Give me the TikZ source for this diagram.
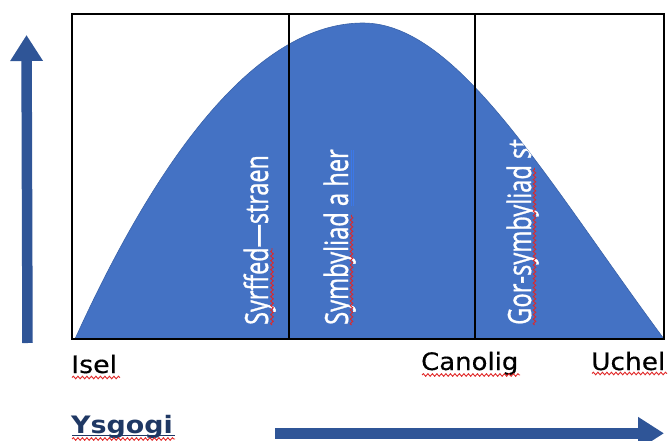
\documentclass[tikz,border=0pt]{standalone}
\usepackage{fontspec}
\usepackage{graphicx}
\usetikzlibrary{arrows.meta,decorations.pathmorphing}
\newfontfamily\labfont[FakeBold=0.4]{DejaVu Sans}
\newfontfamily\titlefont{DejaVu Sans}
\newfontfamily\bandfont[FakeBold=1.2]{Open Sans}
\definecolor{humpblue}{HTML}{4472C4}
\definecolor{humpedge}{HTML}{3A62A8}
\definecolor{arrowblue}{HTML}{2F5597}
\definecolor{navy}{HTML}{1F3864}
\definecolor{spellred}{HTML}{E02828}
\definecolor{grammarblue}{HTML}{3C78E8}
\tikzset{
  frameline/.style={draw=black,line width=1.6pt},
  axislab/.style={anchor=base west,inner sep=0pt,text=black,
    font=\labfont\fontsize{24}{28}\selectfont},
  bandlab/.style={anchor=base west,inner sep=0pt,rotate=90,text=white,
    font=\bandfont\fontsize{32}{38}\selectfont},
  bigarrow/.style={draw=arrowblue,line width=10.5pt,
    -{Triangle[length=26pt,width=31pt]}},
  spell/.style={draw=spellred,line width=0.9pt,
    decorate,decoration={snake,segment length=4.5pt,amplitude=1.3pt}},
}
\begin{document}
\begin{tikzpicture}[x=1pt,y=-1pt]
\useasboundingbox (0,0) rectangle (670,441);

% bell-shaped response curve
\fill[humpblue,draw=humpedge,line width=0.6pt]
  (75,339) .. controls (175,119) and (273,23) .. (363,23)
  .. controls (458,23) and (547,181) .. (664,339) -- cycle;

% outer frame and band dividers
\coordinate (tl) at (72,14);
\coordinate (br) at (664,339);
\coordinate (d1top) at (289,14);
\coordinate (d1bot) at (289,339);
\coordinate (d2top) at (475,14);
\coordinate (d2bot) at (475,339);
\draw[frameline] (tl) rectangle (br);
\draw[frameline] (d1top) -- (d1bot);
\draw[frameline] (d2top) -- (d2bot);

% band labels
\node[bandlab] (syrffed) at (268,325) {\scalebox{0.73}[1]{Syrffed—straen}};
\node[bandlab] (symb) at (348,325) {\scalebox{0.74}[1]{Symbyliad a her}};
\begin{scope}
  \clip (75,339) .. controls (175,119) and (273,23) .. (363,23)
    .. controls (458,23) and (547,181) .. (664,339) -- cycle;
  \node[bandlab] (gorsymb) at (531,325) {\scalebox{0.74}[1]{Gor-symbyliad st}};
\end{scope}

% axis labels
\node[axislab] (isel) at (71,373) {\scalebox{1.12}[1]{Isel}};
\node[axislab] (canolig) at (421,370) {\scalebox{1.08}[1]{Canolig}};
\node[axislab] (uchel) at (591,370) {\scalebox{1.1}[1]{Uchel}};
\node[axislab,text=navy,font=\titlefont\bfseries\fontsize{24}{28}\selectfont]
  (ysgogi) at (71,433) {\scalebox{1.12}[1]{Ysgogi}};
\draw[navy,line width=1.4pt] (72,435.5) -- (175,435.5);

% axis arrows
\coordinate (vbot) at (27.5,343);
\coordinate (vtop) at (26.5,35);
\coordinate (hleft) at (275,433.3);
\coordinate (hright) at (664,433.3);
\draw[bigarrow] (vbot) -- (vtop);
\draw[bigarrow] (hleft) -- (hright);

% proofing marks
\draw[spell] (72,377.5) -- (120,377.5);
\draw[spell] (422,375) -- (520,375);
\draw[spell] (592,373.5) -- (667,373.5);
\draw[spell] (72,439) -- (175,439);
\draw[spell] (272,325) -- (272,248);
\draw[spell] (351.5,325) -- (351.5,215);
\draw[spell] (534.5,325) -- (534.5,168);
\draw[grammarblue,line width=0.6pt] (351,150) -- (351,206);
\draw[grammarblue,line width=0.6pt] (353.5,150) -- (353.5,206);
\end{tikzpicture}
\end{document}
